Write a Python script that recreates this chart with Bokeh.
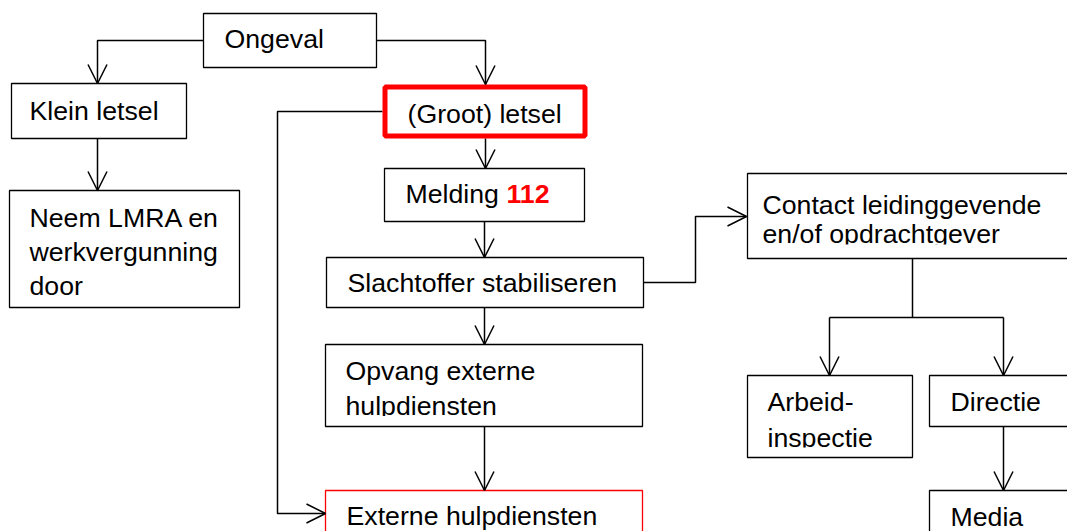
from bokeh.plotting import figure
from bokeh.models import Range1d, Arrow, OpenHead
from bokeh.core.properties import value
from bokeh.embed import file_html
from bokeh.resources import INLINE

# ---- flowchart content ----
node_ids = ["ongeval", "klein", "neem", "groot", "melding", "slacht", "opvang",
            "extern", "contact", "arbeid", "directie", "media"]
node_lines = [
    ["Ongeval"],
    ["Klein letsel"],
    ["Neem LMRA en", "werkvergunning", "door"],
    ["(Groot) letsel"],
    ["Melding "],
    ["Slachtoffer stabiliseren"],
    ["Opvang externe", "hulpdiensten"],
    ["Externe hulpdiensten"],
    ["Contact leidinggevende", "en/of opdrachtgever"],
    ["Arbeid-", "inspectie"],
    ["Directie"],
    ["Media"],
]
emergency_number = "112"

# ---- layout (picture pixels) ----
box_left   = [203, 11, 9, 384.5, 384, 326, 325, 325, 747, 747, 929, 929]
box_right  = [376, 186, 239, 584.5, 584, 643, 642, 642, 1090, 912, 1090, 1090]
box_top    = [13, 83, 190, 86.5, 168, 257, 344, 490, 173, 375, 375, 490]
box_bottom = [67, 138, 307, 135.5, 221, 307, 426, 560, 258, 457, 426, 560]
box_color  = ["black", "black", "black", "#ff0000", "black", "black", "black",
              "#ff0000", "black", "black", "black", "black"]
box_width  = [1.3, 1.3, 1.3, 5, 1.3, 1.3, 1.3, 1.3, 1.3, 1.3, 1.3, 1.3]
text_x     = [224, 29, 29, 407, 405, 347, 345, 346, 762, 767, 950, 950]
text_base  = [[48], [120], [227, 261, 295], [123], [203], [292], [380, 415],
              [525], [214, 243], [411, 447], [411], [526]]
number_x = 506
TEXT_SHIFT = -10  # renderer places text ~10px below the requested baseline
# text clipped at bottom of box (white band) : (left, right, top, bottom)
clip_bands = [(326.5, 641.5, 415.5, 425.3), (747.5, 1080, 244, 257.3), (747.5, 911.5, 447, 456.3)]

# connectors: polylines, arrow at end if flagged
edges = [
    ([203, 97, 97], [40, 40, 83], True),
    ([376, 485, 485], [40, 40, 84], True),
    ([97, 97], [138, 190], True),
    ([485, 485], [138, 168], True),
    ([484, 484], [221, 257], True),
    ([484, 484], [307, 344], True),
    ([484, 484], [426, 490], True),
    ([382, 277, 277, 325], [111, 111, 513, 513], True),
    ([643, 695, 695, 746], [282, 282, 216, 216], True),
    ([912, 912], [258, 317], False),
    ([829, 1003], [317, 317], False),
    ([829, 829], [317, 375], True),
    ([1003, 1003], [317, 375], True),
    ([1003, 1003], [426, 490], True),
]

W, H = 1067, 531
p = figure(width=W, height=H, output_backend="svg", toolbar_location=None,
           x_range=Range1d(0, W), y_range=Range1d(H, 0),
           min_border=0)
p.axis.visible = False
p.grid.visible = False
p.outline_line_color = None
p.background_fill_color = "white"
p.border_fill_color = "white"

FONT = value("Liberation Sans")
FS = value("26.7px")

# connectors
for xs, ys, arrow in edges:
    p.line(xs, ys, line_color="black", line_width=1.5)
    if arrow:
        p.add_layout(Arrow(end=OpenHead(size=19, line_width=1.5, line_color="black"),
                           x_start=xs[-2], y_start=ys[-2], x_end=xs[-1], y_end=ys[-1],
                           line_alpha=0))

# box fills
p.quad(left=box_left, right=box_right, top=box_top, bottom=box_bottom,
       fill_color="white", line_color=None)

# texts
tx, ty, tt = [], [], []
for i, lines in enumerate(node_lines):
    for line, b in zip(lines, text_base[i]):
        tx.append(text_x[i]); ty.append(b + TEXT_SHIFT); tt.append(line)
p.text(x=tx, y=ty, text=tt, text_font=FONT, text_font_size=FS,
       text_color="black", text_baseline="alphabetic", text_align="left")
p.text(x=[number_x], y=[text_base[node_ids.index("melding")][0] + TEXT_SHIFT],
       text=[emergency_number],
       text_font=FONT, text_font_size=FS, text_font_style="bold",
       text_color="#ff0000", text_baseline="alphabetic", text_align="left")

# clip bands
p.quad(left=[c[0] for c in clip_bands], right=[c[1] for c in clip_bands],
       top=[c[2] for c in clip_bands], bottom=[c[3] for c in clip_bands],
       fill_color="white", line_color=None)

# box outlines
p.quad(left=box_left, right=box_right, top=box_top, bottom=box_bottom,
       fill_color=None, line_color=box_color, line_width=box_width)

open("out.html", "w").write(file_html(p, INLINE))
